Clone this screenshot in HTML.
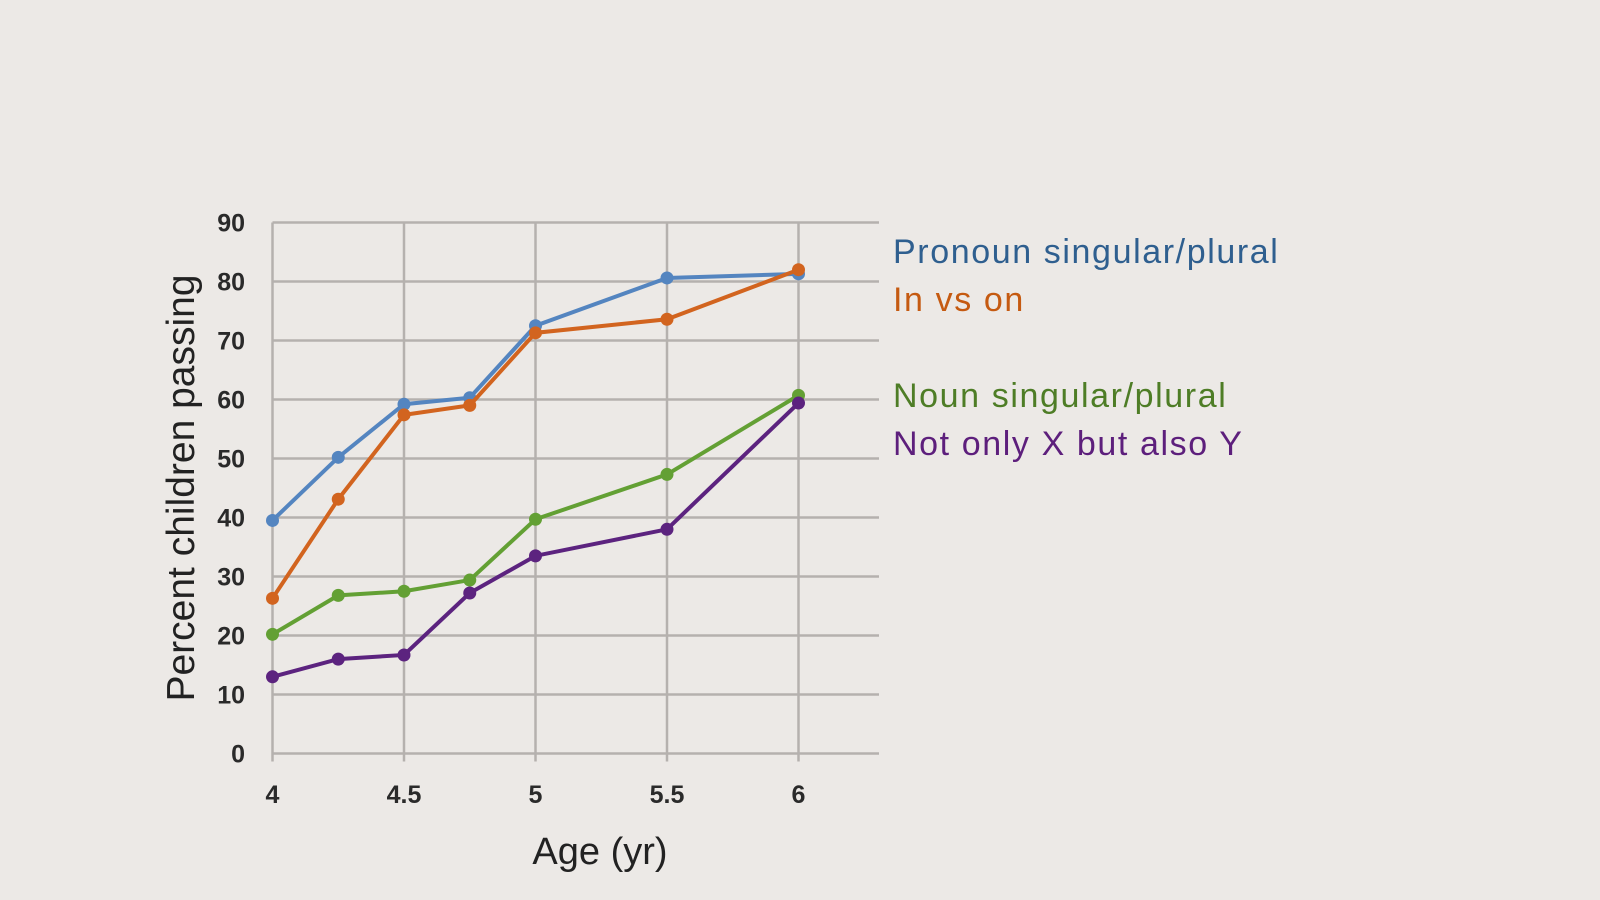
<!DOCTYPE html>
<html><head><meta charset="utf-8"><style>
html,body{margin:0;padding:0;background:#ece9e6;}
svg{display:block;font-family:"Liberation Sans",sans-serif;}
</style></head><body>
<svg id="chart" width="1600" height="900"></svg>
<script>
const xValues=[4,4.25,4.5,4.75,5,5.5,6];
const pronoun=[39.5,50.2,59.2,60.3,72.5,80.6,81.3];
const inVsOn=[26.3,43.1,57.4,59.0,71.3,73.6,82.0];
const noun=[20.2,26.8,27.5,29.4,39.7,47.3,60.7];
const notOnly=[13.0,16.0,16.7,27.2,33.5,38.0,59.4];
const yTicks=[0,10,20,30,40,50,60,70,80,90];
const xTicks=[4,4.5,5,5.5,6];
const svg=document.getElementById('chart');
const NS='http://www.w3.org/2000/svg';
const X=v=>272.5+(v-4)*263;
const Y=v=>753.5-v*5.9;
function mk(t,a){const e=document.createElementNS(NS,t);for(const k in a)e.setAttribute(k,a[k]);svg.appendChild(e);return e;}
const right=879;
yTicks.forEach(t=>{
  const l=mk('line',{x1:272.5,x2:right,y1:Y(t),y2:Y(t),stroke:'#b5b1ae','stroke-width':2.5});
  
  
  const tx=mk('text',{x:245,y:Y(t)+9,'text-anchor':'end','font-size':25,'font-weight':'bold',fill:'#2a2a2a'});
  tx.textContent=t;
  
  
});
xTicks.forEach(t=>{
  const l=mk('line',{x1:X(t),x2:X(t),y1:Y(90),y2:Y(0)+8,stroke:'#b5b1ae','stroke-width':2.5});
  
  
  const tx=mk('text',{x:X(t),y:803,'text-anchor':'middle','font-size':25,'font-weight':'bold',fill:'#2a2a2a'});
  tx.textContent=t;
  
  
});
const series=[[pronoun,'#5485c0','pronoun'],[inVsOn,'#d2641f','in-vs-on'],[noun,'#63a034','noun'],[notOnly,'#5c237f','not-only']];
series.forEach(([d,c,n])=>{
  const p=mk('polyline',{points:d.map((v,i)=>X(xValues[i])+','+Y(v)).join(' '),fill:'none',stroke:c,'stroke-width':4});
  
  
  d.forEach((v,i)=>{
    const m=mk('circle',{cx:X(xValues[i]),cy:Y(v),r:6.5,fill:c});
    
    
  });
});
const xt=mk('text',{x:600,y:864,'text-anchor':'middle','font-size':38,fill:'#222'});
xt.textContent='Age (yr)';


const yt=mk('text',{x:0,y:0,'text-anchor':'middle','font-size':39,fill:'#222',transform:'translate(194,488) rotate(-90)'});
yt.textContent='Percent children passing';


const legend=[['Pronoun singular/plural','#2f5f8f',263],['In vs on','#c55a11',311],['Noun singular/plural','#4e7d26',407],['Not only X but also Y','#5d1f7c',455]];
legend.forEach(([t,c,y])=>{
  const e=mk('text',{x:893,y:y,'font-size':34,fill:c,'letter-spacing':'1.6'});
  e.textContent=t;
  
  
});
</script>
</body></html>
